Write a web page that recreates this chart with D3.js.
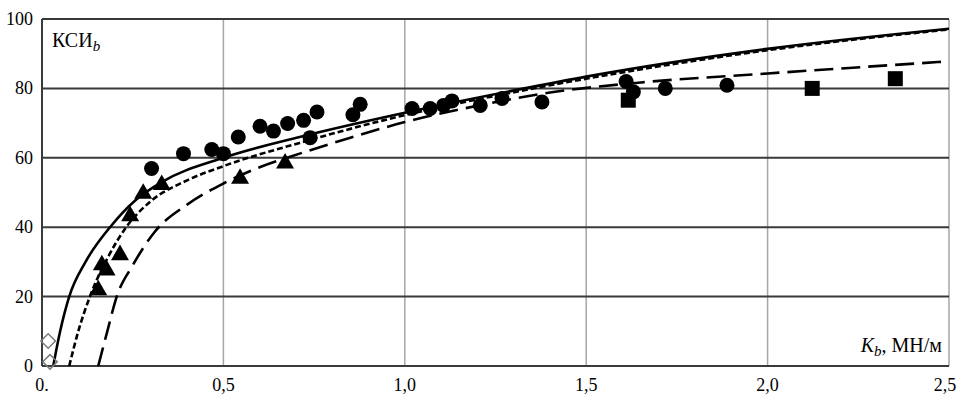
<!DOCTYPE html>
<html>
<head>
<meta charset="utf-8">
<script src="https://d3js.org/d3.v7.min.js"></script>
<style>
  body { margin: 0; background: #fff; }
  text { font-family: "Liberation Serif", "Times New Roman", serif; }
</style>
</head>
<body>
<div id="chart"></div>
<script>
// ticks
var xTicks = [0, 0.5, 1.0, 1.5, 2.0, 2.5];
var xTickLabels = ["0.", "0,5", "1,0", "1,5", "2,0", "2,5"];
var yTicks = [0, 20, 40, 60, 80, 100];

// fitted curves
var solidK   = [0.031, 0.05, 0.075, 0.12, 0.1875, 0.26, 0.33, 0.5, 0.71, 1.0, 1.33, 1.5, 2.0, 2.5];
var solidKSI = [0, 10, 20, 30, 40, 48, 53, 60, 66, 73, 80, 83.4, 91.4, 97.2];

var shortK   = [0.075, 0.1, 0.132, 0.18, 0.232, 0.3, 0.4, 0.5, 0.71, 1.0, 1.33, 1.5, 2.0, 2.5];
var shortKSI = [0, 10, 20, 31, 40, 47.5, 53.5, 57.6, 64.3, 72.3, 79.5, 82.8, 91, 97];

var longK   = [0.155, 0.18, 0.206, 0.25, 0.311, 0.4, 0.5, 0.6, 0.71, 0.85, 1.0, 1.2, 1.4, 1.65, 2.0, 2.5];
var longKSI = [0, 10, 20, 29, 38.7, 46.5, 52.6, 57.3, 61.2, 65.8, 70.3, 75, 78.8, 81.7, 84.3, 87.8];

// measured points
var circleK   = [0.302, 0.39, 0.468, 0.5, 0.541, 0.601, 0.638, 0.677, 0.721, 0.739, 0.758, 0.857, 0.877, 1.02, 1.07, 1.107, 1.13, 1.208, 1.268, 1.378, 1.61, 1.63, 1.718, 1.888];
var circleKSI = [56.9, 61.2, 62.4, 61.2, 66, 69.1, 67.7, 69.9, 70.8, 65.8, 73.2, 72.4, 75.4, 74.2, 74.2, 75.1, 76.4, 75.1, 77.1, 76.1, 82, 79, 80, 80.9];

var triK   = [0.155, 0.165, 0.178, 0.215, 0.243, 0.279, 0.33, 0.546, 0.67];
var triKSI = [21.9, 29.1, 27.6, 32, 43.2, 49.7, 52.2, 54, 58.4];

var squareK   = [1.616, 2.123, 2.352];
var squareKSI = [76.6, 80, 82.8];

var diamondK   = [0.017, 0.022];
var diamondKSI = [7.2, 1.2];

var width = 961, height = 414;
var plot = { left: 42, right: 949, top: 19, bottom: 366 };

var svg = d3.select("#chart")
    .append("svg")
    .attr("width", width)
    .attr("height", height);

var x = d3.scaleLinear().domain([0, 2.5]).range([plot.left, plot.right]);
var y = d3.scaleLinear().domain([0, 100]).range([plot.bottom, plot.top]);

// vertical grid (light gray)
svg.append("g")
    .selectAll("line")
    .data(xTicks.slice(1))
    .enter().append("line")
    .attr("x1", function (d) { return x(d); })
    .attr("x2", function (d) { return x(d); })
    .attr("y1", y(0))
    .attr("y2", y(100))
    .attr("stroke", "#a6a6a6")
    .attr("stroke-width", 1.5);

// horizontal grid (dark)
svg.append("g")
    .selectAll("line")
    .data(yTicks)
    .enter().append("line")
    .attr("x1", x(0))
    .attr("x2", x(2.5))
    .attr("y1", function (d) { return y(d); })
    .attr("y2", function (d) { return y(d); })
    .attr("stroke", "#3a3a3a")
    .attr("stroke-width", 2);

// left axis line
svg.append("line")
    .attr("x1", x(0)).attr("x2", x(0))
    .attr("y1", y(0)).attr("y2", y(100))
    .attr("stroke", "#3a3a3a")
    .attr("stroke-width", 2);

// tick labels
svg.append("g")
    .selectAll("text")
    .data(yTicks)
    .enter().append("text")
    .attr("x", 33)
    .attr("y", function (d) { return y(d) + 6; })
    .attr("text-anchor", "end")
    .style("font-size", "18px")
    .text(function (d) { return d; });

svg.append("g")
    .selectAll("text")
    .data(xTicks)
    .enter().append("text")
    .attr("x", function (d, i) { return i === 0 ? x(d) : (i === xTicks.length - 1 ? x(d) - 4 : x(d)); })
    .attr("y", 391)
    .attr("text-anchor", "middle")
    .style("font-size", "18px")
    .text(function (d, i) { return xTickLabels[i]; });

// curves
svg.append("clipPath").attr("id", "clip")
    .append("rect")
    .attr("x", plot.left).attr("y", plot.top)
    .attr("width", plot.right - plot.left).attr("height", plot.bottom - plot.top);

var line = d3.line()
    .x(function (d) { return x(d[0]); })
    .y(function (d) { return y(d[1]); })
    .curve(d3.curveMonotoneX);

function zip(a, b) { return a.map(function (v, i) { return [v, b[i]]; }); }

var curves = [
    { pts: zip(longK, longKSI), dash: "19,8" },
    { pts: zip(shortK, shortKSI), dash: "6,3" },
    { pts: zip(solidK, solidKSI), dash: null }
];

svg.append("g")
    .attr("clip-path", "url(#clip)")
    .selectAll("path")
    .data(curves)
    .enter().append("path")
    .attr("d", function (d) { return line(d.pts); })
    .attr("fill", "none")
    .attr("stroke", "#000")
    .attr("stroke-width", 2.6)
    .attr("stroke-dasharray", function (d) { return d.dash; });

// markers
svg.append("g")
    .selectAll("path")
    .data(zip(diamondK, diamondKSI))
    .enter().append("path")
    .attr("d", d3.symbol().type(d3.symbolSquare).size(105))
    .attr("transform", function (d) { return "translate(" + x(d[0]) + "," + y(d[1]) + ") rotate(45)"; })
    .attr("fill", "none")
    .attr("stroke", "#7a7a7a")
    .attr("stroke-width", 1.5);

svg.append("g")
    .selectAll("circle")
    .data(zip(circleK, circleKSI))
    .enter().append("circle")
    .attr("cx", function (d) { return x(d[0]); })
    .attr("cy", function (d) { return y(d[1]); })
    .attr("r", 7.5)
    .attr("fill", "#000");

svg.append("g")
    .selectAll("path")
    .data(zip(triK, triKSI))
    .enter().append("path")
    .attr("d", d3.symbol().type(d3.symbolTriangle).size(140))
    .attr("transform", function (d) { return "translate(" + x(d[0]) + "," + y(d[1]) + ")"; })
    .attr("fill", "#000");

svg.append("g")
    .selectAll("rect")
    .data(zip(squareK, squareKSI))
    .enter().append("rect")
    .attr("x", function (d) { return x(d[0]) - 7.5; })
    .attr("y", function (d) { return y(d[1]) - 7.5; })
    .attr("width", 15)
    .attr("height", 15)
    .attr("fill", "#000");

// axis titles
var yTitle = svg.append("text")
    .attr("x", 52)
    .attr("y", 47)
    .style("font-size", "20px");
yTitle.append("tspan").text("КСИ");
yTitle.append("tspan").attr("dy", 4).style("font-style", "italic").style("font-size", "15px").text("b");

var xTitle = svg.append("text")
    .attr("x", 942)
    .attr("y", 352)
    .attr("text-anchor", "end")
    .style("font-size", "20px");
xTitle.append("tspan").style("font-style", "italic").text("K");
xTitle.append("tspan").attr("dy", 4).style("font-style", "italic").style("font-size", "15px").text("b");
xTitle.append("tspan").attr("dy", -4).text(", МН/м");
</script>
</body>
</html>
